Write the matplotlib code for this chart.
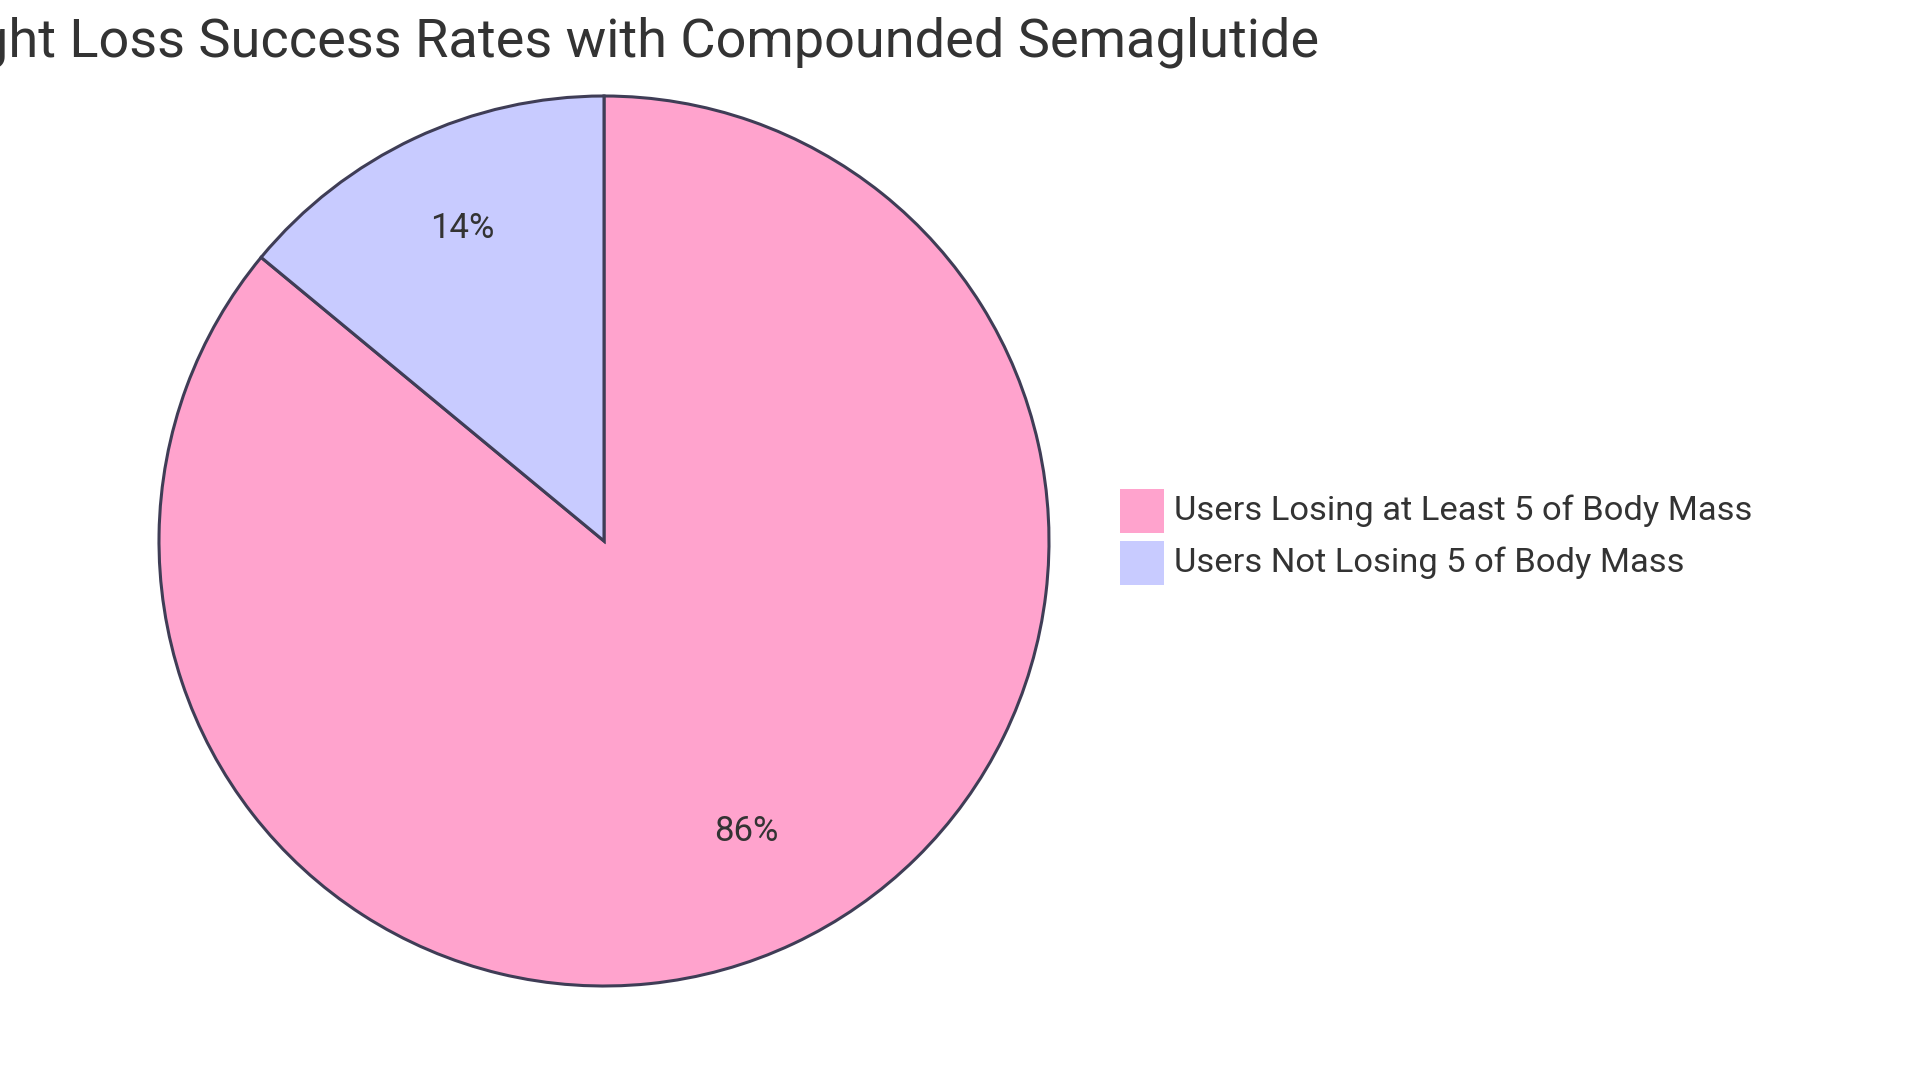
import matplotlib
matplotlib.use('Agg')
import matplotlib.pyplot as plt
from matplotlib.patches import Rectangle

plt.rcParams['font.family'] = ['Roboto', 'DejaVu Sans']

# data
title = "Weight Loss Success Rates with Compounded Semaglutide"
labels = ["Users Losing at Least 5 of Body Mass", "Users Not Losing 5 of Body Mass"]
values = [86, 14]
colors = ["#FFA3CD", "#C8CBFF"]

W, H = 1920, 1083
fig = plt.figure(figsize=(W / 100, H / 100), dpi=100)

# pie placed in pixel terms
cx, cy, r = 604, 541, 445
ax = fig.add_axes([(cx - r) / W, (H - cy - r) / H, 2 * r / W, 2 * r / H])
wedges, texts, autotexts = ax.pie(
    values, colors=colors, startangle=90, counterclock=False,
    autopct=lambda p: f"{p:.0f}%", pctdistance=0.75,
    wedgeprops=dict(edgecolor="#3F3D56", linewidth=2.2),
    textprops=dict(color="#333333", fontsize=25))
# labels sit with their baseline near the arc centroid
for t in autotexts:
    x, y = t.get_position()
    t.set_position((x, y + 11 / r))
ax.set_xlim(-1, 1)
ax.set_ylim(-1, 1)
ax.set_aspect('equal')
ax.axis('off')

fig.text(cx / W, 1 - 42 / H, title, ha="center", va="center",
         fontsize=39, color="#333333")

# legend
box = 44
for i, (lab, col) in enumerate(zip(labels, colors)):
    top = 489 + i * 52
    fig.patches.append(Rectangle((1120 / W, 1 - (top + box) / H), box / W, box / H,
                                 transform=fig.transFigure, facecolor=col,
                                 edgecolor="none"))
    fig.text(1174 / W, 1 - (top + box / 2) / H, lab, ha="left", va="center",
             fontsize=24.8, color="#333333")

fig.savefig("out.png", dpi=100)
